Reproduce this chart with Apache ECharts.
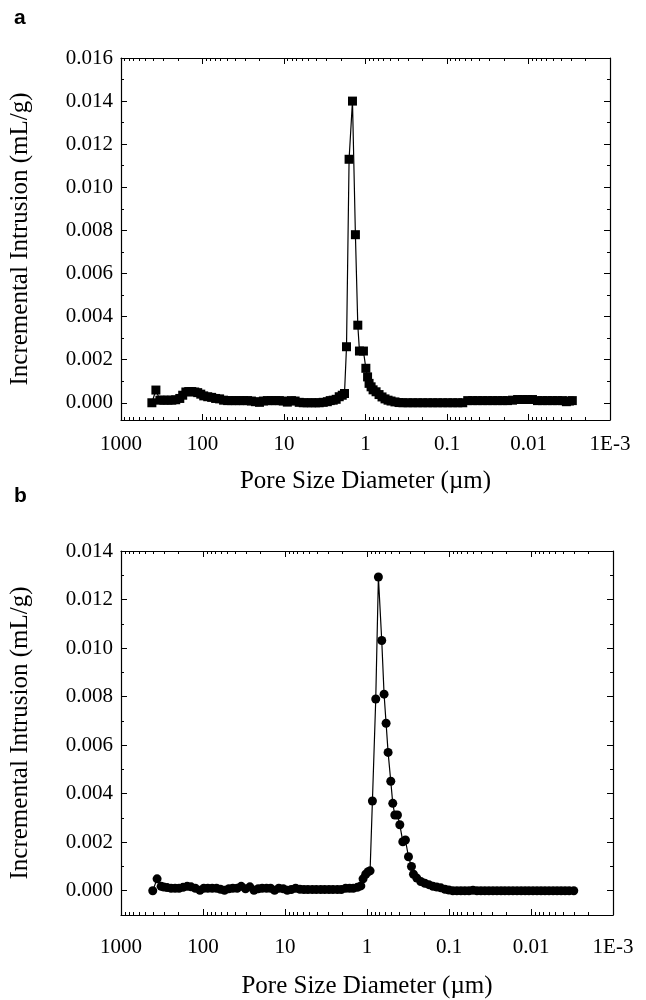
<!DOCTYPE html>
<html>
<head>
<meta charset="utf-8">
<script src="https://cdn.jsdelivr.net/npm/echarts@6/dist/echarts.min.js"></script>
<style>
html,body{margin:0;padding:0;background:#fff;}
#chart{width:646px;height:1000px;}
</style>
</head>
<body>
<div id="chart"></div>
<script>
// ---- Panel a data (pore diameter in µm, incremental intrusion in mL/g) ----
var xA = [418, 373, 333, 298, 266, 238, 213, 190, 175, 160, 147.5, 135.5, 124.5, 114.5, 105, 96.6, 86.3, 77.2, 69, 61.7,
  55.1, 49.2, 44, 39.3, 35.1, 31.4, 28, 25.1, 22.4, 20, 17.9, 16, 14.3, 12.7, 11.4, 10.2, 9.1, 8.1, 7.3, 6.5,
  5.8, 5.2, 4.6, 4.1, 3.7, 3.3, 2.94, 2.71, 2.49, 2.29, 2.10, 1.93, 1.81,
  1.71, 1.59, 1.445, 1.33, 1.243, 1.186, 1.06, 0.99, 0.943, 0.904, 0.854, 0.807,
  0.742, 0.682, 0.627, 0.576, 0.529, 0.486, 0.435, 0.388,
  0.347, 0.301, 0.262, 0.228, 0.198, 0.172, 0.149, 0.130, 0.1125, 0.0977, 0.0849, 0.0738, 0.0641,
  0.0557, 0.0484, 0.0420, 0.0365, 0.0317, 0.0275, 0.0239, 0.0208, 0.0181, 0.0157, 0.0136, 0.0118, 0.0103, 0.00894,
  0.00776, 0.00674, 0.00586, 0.00509, 0.00442, 0.00384, 0.00343, 0.00315, 0.0029];
var yA = [0, 0.00059, 0.00012, 0.00012, 0.00012, 0.00012, 0.00014, 0.0002, 0.00035, 0.0005, 0.00052, 0.00052, 0.0005, 0.00047, 0.0004, 0.00032, 0.00028, 0.00025, 0.0002, 0.00018,
  0.00012, 0.0001, 0.0001, 0.0001, 0.0001, 0.0001, 0.0001, 0.00008, 0.00005, 0.00002, 0.00008, 0.0001, 0.0001, 0.0001, 0.0001, 0.00008, 0.00003, 0.0001, 0.00008, 0.00002,
  0, 0, 0, 0, 0, 0.00002, 0.00005, 0.0001, 0.00012, 0.00016, 0.00028, 0.00035, 0.00043,
  0.0026, 0.0113, 0.014, 0.0078, 0.0036, 0.0024, 0.0024, 0.0016, 0.0012, 0.0009, 0.00074, 0.0006,
  0.00051, 0.00038, 0.00027, 0.00018, 0.00012, 0.00008, 0.00004, 0.00001,
  0, 0, 0, 0, 0, 0, 0, 0, 0, 0, 0, 0, 0,
  0.0001, 0.0001, 0.0001, 0.0001, 0.0001, 0.0001, 0.0001, 0.0001, 0.0001, 0.00012, 0.00015, 0.00015, 0.00015, 0.00015,
  0.0001, 0.0001, 0.0001, 0.0001, 0.0001, 0.0001, 0.00005, 0.00008, 0.0001];

// ---- Panel b data ----
var xB = [410, 363, 324, 301, 274, 245, 219, 196, 175, 156, 140, 124, 109, 97.8, 87.3, 77.3, 68.4, 61.2, 54.7, 48.4,
  43.3, 38.3, 34.2, 30.3, 26.8, 23.9, 21.2, 19.0, 16.8, 15.0, 13.4, 11.9, 10.5, 9.38, 8.38, 7.42, 6.57, 5.87, 5.25, 4.65,
  4.15, 3.67, 3.28, 2.91, 2.60, 2.30, 2.06, 1.82, 1.63, 1.47, 1.31, 1.19, 1.117, 1.036, 0.970, 0.917,
  0.859, 0.782, 0.726, 0.661, 0.619, 0.585, 0.553, 0.513, 0.485, 0.458, 0.425, 0.398, 0.366, 0.34, 0.312, 0.287, 0.271, 0.247,
  0.221, 0.197, 0.176, 0.157, 0.141, 0.126, 0.112, 0.1004, 0.0897, 0.0801, 0.0716, 0.0640, 0.0571, 0.0510, 0.0456, 0.0408,
  0.0365, 0.0326, 0.0291, 0.0260, 0.0232, 0.0208, 0.0186, 0.0166, 0.0148, 0.0132, 0.0118, 0.0106, 0.00946, 0.00845, 0.00755,
  0.00675, 0.00603, 0.00538, 0.00481, 0.00430, 0.00384, 0.00343, 0.00301];
var yB = [0, 0.00049, 0.00018, 0.00015, 0.00013, 0.0001, 0.0001, 0.0001, 0.00014, 0.00018, 0.00016, 0.0001, 0.00002, 0.0001, 0.0001, 0.0001, 0.0001, 0.00006, 0.00002, 0.00008,
  0.0001, 0.0001, 0.00018, 0.00008, 0.00016, 0.00002, 0.00008, 0.0001, 0.0001, 0.0001, 0.00002, 0.0001, 0.00008, 0.00002, 0.00005, 0.0001, 0.00006, 0.00005, 0.00005, 0.00005,
  0.00005, 0.00005, 0.00005, 0.00005, 0.00005, 0.00005, 0.00005, 0.0001, 0.0001, 0.0001, 0.00014, 0.0002, 0.00049, 0.00068, 0.00078, 0.00082,
  0.0037, 0.0079, 0.01293, 0.01031, 0.0081, 0.0069, 0.0057, 0.00451, 0.0036, 0.00312, 0.00312, 0.00272, 0.00202, 0.00209, 0.0014, 0.001, 0.00068, 0.00052,
  0.00038, 0.00031, 0.00025, 0.00018, 0.00015, 0.00012, 0.00006, 0.00003, 0, 0, 0, 0, 0, 0.00002, 0, 0,
  0, 0, 0, 0, 0, 0, 0, 0, 0, 0, 0, 0, 0, 0, 0,
  0, 0, 0, 0, 0, 0, 0, 0];

// ---- Axis ticks & labels ----
var xTickValues = [1000, 100, 10, 1, 0.1, 0.01, 0.001];
var xTickLabels = ['1000', '100', '10', '1', '0.1', '0.01', '1E-3'];
var xMinorTicks = [900, 800, 700, 600, 500, 400, 300, 200, 90, 80, 70, 60, 50, 40, 30, 20,
  9, 8, 7, 6, 5, 4, 3, 2, 0.9, 0.8, 0.7, 0.6, 0.5, 0.4, 0.3, 0.2,
  0.09, 0.08, 0.07, 0.06, 0.05, 0.04, 0.03, 0.02, 0.009, 0.008, 0.007, 0.006, 0.005, 0.004, 0.003, 0.002];
var yTicksA = [0, 0.002, 0.004, 0.006, 0.008, 0.010, 0.012, 0.014, 0.016];
var yMinorA = [0.001, 0.003, 0.005, 0.007, 0.009, 0.011, 0.013, 0.015];
var yTicksB = [0, 0.002, 0.004, 0.006, 0.008, 0.010, 0.012, 0.014];
var yMinorB = [0.001, 0.003, 0.005, 0.007, 0.009, 0.011, 0.013];
var yTickLabels = ['0.000', '0.002', '0.004', '0.006', '0.008', '0.010', '0.012', '0.014', '0.016'];

var xTitle = 'Pore Size Diameter (\u00b5m)';
var yTitle = 'Incremental Intrusion (mL/g)';

var SERIF = "'Liberation Serif', 'Times New Roman', serif";
var LINE = {show: true, onZero: false, lineStyle: {color: '#000', width: 1.2}};
var NOLINE = {show: false, onZero: false};

function xLabel(v) {
  var lv = Math.log(v) / Math.LN10;
  for (var i = 0; i < xTickValues.length; i++) {
    if (Math.abs(Math.log(xTickValues[i]) / Math.LN10 - lv) < 1e-6) return xTickLabels[i];
  }
  return '';
}
function yLabel(v) {
  var i = Math.round(v / 0.002);
  return yTickLabels[i] || '';
}

function xAxes(grid, labelMargin, nameGap) {
  var base = {gridIndex: grid, type: 'log', logBase: 10, min: 0.001, max: 1000, inverse: true,
    splitLine: {show: false}, axisLine: LINE};
  return [
    Object.assign({}, base, {position: 'bottom',
      axisTick: {inside: true, length: 6, lineStyle: {color: '#000', width: 1}, customValues: xTickValues},
      axisLabel: {color: '#000', fontFamily: SERIF, fontSize: 21, margin: labelMargin, formatter: xLabel, customValues: xTickValues},
      name: xTitle, nameLocation: 'middle', nameGap: nameGap,
      nameTextStyle: {color: '#000', fontFamily: SERIF, fontSize: 25}}),
    Object.assign({}, base, {position: 'bottom', axisLine: NOLINE,
      axisTick: {inside: true, length: 3, lineStyle: {color: '#000', width: 1}, customValues: xMinorTicks},
      axisLabel: {show: false}}),
    Object.assign({}, base, {position: 'top',
      axisTick: {inside: true, length: 6, lineStyle: {color: '#000', width: 1}, customValues: xTickValues},
      axisLabel: {show: false}}),
    Object.assign({}, base, {position: 'top', axisLine: NOLINE,
      axisTick: {inside: true, length: 3, lineStyle: {color: '#000', width: 1}, customValues: xMinorTicks},
      axisLabel: {show: false}})
  ];
}
function yAxes(grid, min, max, ticks, minor, nameGap) {
  var base = {gridIndex: grid, type: 'value', min: min, max: max, splitLine: {show: false}, axisLine: LINE};
  return [
    Object.assign({}, base, {position: 'left',
      axisTick: {inside: true, length: 6, lineStyle: {color: '#000', width: 1}, customValues: ticks},
      axisLabel: {color: '#000', fontFamily: SERIF, fontSize: 21, margin: 8, formatter: yLabel, customValues: ticks},
      name: yTitle, nameLocation: 'middle', nameGap: nameGap, nameRotate: 90,
      nameTextStyle: {color: '#000', fontFamily: SERIF, fontSize: 25}}),
    Object.assign({}, base, {position: 'left', axisLine: NOLINE,
      axisTick: {inside: true, length: 3, lineStyle: {color: '#000', width: 1}, customValues: minor},
      axisLabel: {show: false}}),
    Object.assign({}, base, {position: 'right',
      axisTick: {inside: true, length: 6, lineStyle: {color: '#000', width: 1}, customValues: ticks},
      axisLabel: {show: false}}),
    Object.assign({}, base, {position: 'right', axisLine: NOLINE,
      axisTick: {inside: true, length: 3, lineStyle: {color: '#000', width: 1}, customValues: minor},
      axisLabel: {show: false}})
  ];
}

function zip(xs, ys) {
  var out = [];
  for (var i = 0; i < xs.length; i++) out.push([xs[i], ys[i]]);
  return out;
}

var chart = echarts.init(document.getElementById('chart'), null, {renderer: 'canvas'});
chart.setOption({
  animation: false,
  backgroundColor: '#fff',
  title: [
    {text: 'a', left: 9, top: 3, textStyle: {fontFamily: "'Liberation Sans', Arial, sans-serif", fontWeight: 'bold', fontSize: 21, color: '#000'}},
    {text: 'b', left: 9, top: 481, textStyle: {fontFamily: "'Liberation Sans', Arial, sans-serif", fontWeight: 'bold', fontSize: 21, color: '#000'}}
  ],
  grid: [
    {left: 119, top: 58, width: 491, height: 362},
    {left: 121, top: 551, width: 492, height: 366}
  ],
  xAxis: xAxes(0, 14, 49).concat(xAxes(1, 22, 59)),
  yAxis: yAxes(0, -0.0008, 0.016, yTicksA, yMinorA, 88).concat(yAxes(1, -0.001, 0.014, yTicksB, yMinorB, 88)),
  series: [
    {type: 'line', xAxisIndex: 0, yAxisIndex: 0, data: zip(xA, yA), symbol: 'rect', symbolSize: 9,
      showSymbol: true, showAllSymbol: true, lineStyle: {color: '#000', width: 1.2}, itemStyle: {color: '#000'}},
    {type: 'line', xAxisIndex: 4, yAxisIndex: 4, data: zip(xB, yB), symbol: 'circle', symbolSize: 9,
      showSymbol: true, showAllSymbol: true, lineStyle: {color: '#000', width: 1.2}, itemStyle: {color: '#000'}}
  ]
});
</script>
</body>
</html>
